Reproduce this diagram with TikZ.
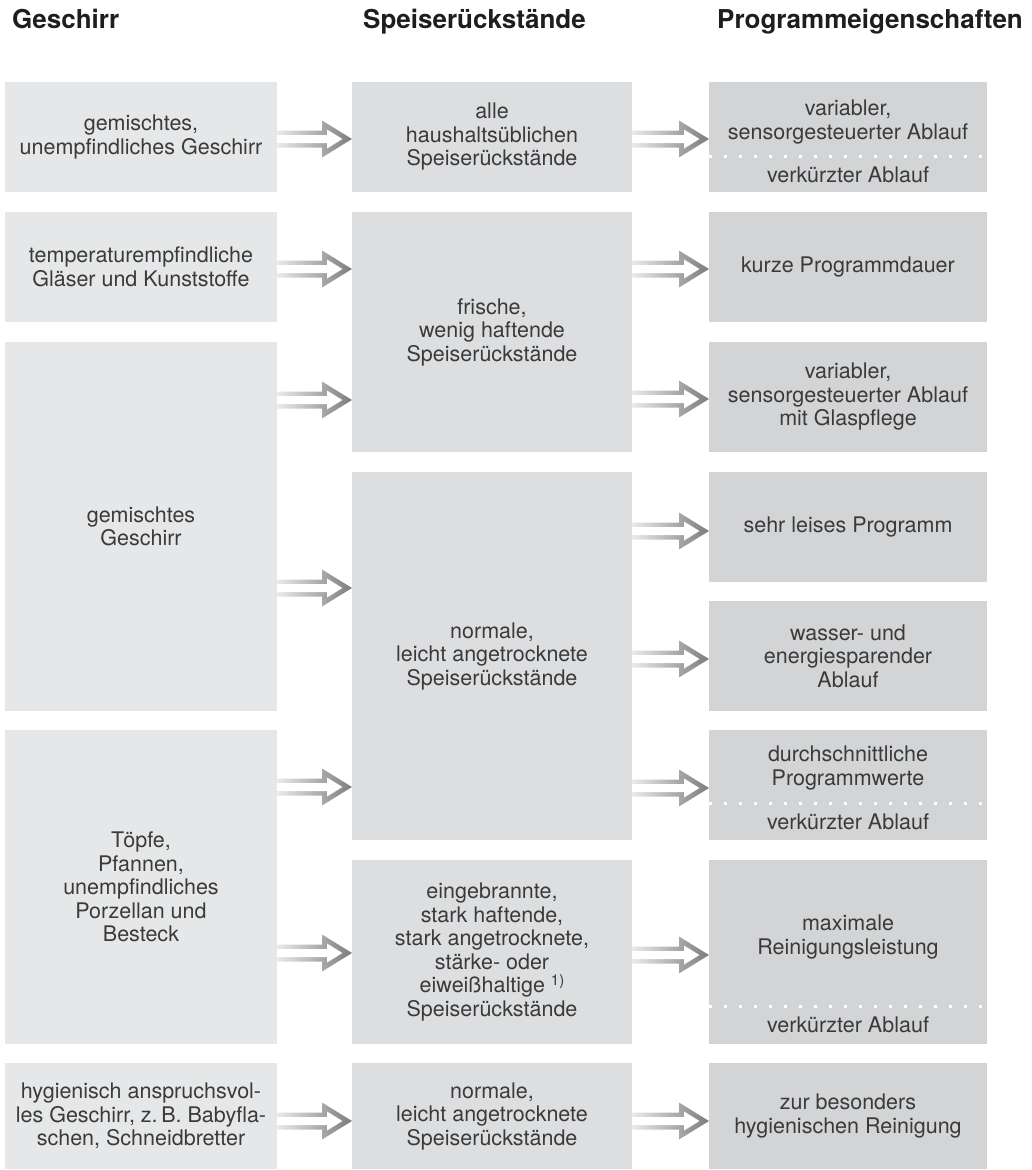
\documentclass[tikz,border=0pt]{standalone}
\usepackage{fontspec}
\setmainfont{TeX Gyre Heros}
\usetikzlibrary{calc}
\definecolor{cA}{HTML}{E6E7E8}
\definecolor{cB}{HTML}{DDDEE0}
\definecolor{cC}{HTML}{D3D4D6}
\definecolor{txt}{HTML}{3A3A3A}
\definecolor{hd}{HTML}{1E1E1E}
\definecolor{arL}{HTML}{EAEAEA}
\definecolor{arM}{HTML}{A2A2A2}
\definecolor{arR}{HTML}{7C7C7C}
\newcommand\hollowarr[3]{%
  \shade[left color=arL, middle color=arM, right color=arR]
    let \p1=(#1.east |- 0,#3), \p2=(#2.west |- 0,#3) in
    (\x1,\y1+8.5pt) -- (\x2-30pt,\y1+8.5pt) -- (\x2-30pt,\y1+18.5pt) -- (\x2,\y1)
    -- (\x2-30pt,\y1-18.5pt) -- (\x2-30pt,\y1-8.5pt) -- (\x1,\y1-8.5pt) -- cycle;
  \fill[white]
    let \p1=(#1.east |- 0,#3), \p2=(#2.west |- 0,#3) in
    (\x1,\y1+4pt) -- (\x2-25pt,\y1+4pt) -- (\x2-25pt,\y1+9.5pt) -- (\x2-9.6pt,\y1)
    -- (\x2-25pt,\y1-9.5pt) -- (\x2-25pt,\y1-4pt) -- (\x1,\y1-4pt) -- cycle;
}
\newcommand\fnmark[1]{\raisebox{7pt}{\fontsize{15}{15}\selectfont #1}}
\begin{document}
\begin{tikzpicture}[x=1pt,y=-1pt,
  tx/.style={inner sep=0pt, outer sep=0pt, text=txt, align=center,
    font=\fontsize{21.5}{23.5}\selectfont},
  colA/.style={tx, fill=cA, minimum width=272pt},
  colB/.style={tx, fill=cB, minimum width=280pt},
  colC/.style={tx, fill=cC, minimum width=278pt},
  head/.style={inner sep=0pt, anchor=base west, text=hd,
    font=\fontsize{26}{30}\selectfont\bfseries},
  dotline/.style={white, line width=3pt, dash pattern=on 3pt off 12pt}]
\useasboundingbox (0,0) rectangle (1032,1170);

% headers
\node[head] (h1) at (12,28) {Geschirr};
\node[head] (h2) at (363,28) {Speiserückstände};
\node[head] (h3) at (717,28) {Programmeigenschaften};

% column 1
\node[colA, minimum height=110pt] (g1) at (141,137) {gemischtes,\\unempfindliches Geschirr};
\node[colA, minimum height=110pt] (g2) at (141,267) {temperaturempfindliche\\Gläser und Kunststoffe};
\node[colA, minimum height=369pt] (g3) at (141,526.5) {gemischtes\\Geschirr};
\node[colA, minimum height=314pt] (g4) at (141,887) {Töpfe,\\Pfannen,\\unempfindliches\\Porzellan und\\Besteck};
\node[colA, minimum height=106pt] (g5) at (141,1116) {hygienisch anspruchsvol-\\les Geschirr, z.\,B. Babyfla-\\schen, Schneidbretter};

% column 2
\node[colB, minimum height=110pt] (s1) at (492,137) {alle\\haushaltsüblichen\\Speiserückstände};
\node[colB, minimum height=240pt] (s2) at (492,332) {frische,\\wenig haftende\\Speiserückstände};
\node[colB, minimum height=368pt] (s3) at (492,656) {normale,\\leicht angetrocknete\\Speiserückstände};
\node[colB, minimum height=184pt] (s4) at (492,952) {eingebrannte,\\stark haftende,\\stark angetrocknete,\\stärke- oder\\eiweißhaltige \fnmark{1)}\\Speiserückstände};
\node[colB, minimum height=106pt] (s5) at (492,1116) {normale,\\leicht angetrocknete\\Speiserückstände};

% column 3
\node[colC, minimum height=110pt] (p1) at (848,137) {};
\node[tx] (p1a) at (848,122) {variabler,\\sensorgesteuerter Ablauf};
\node[tx] (p1b) at (848,174.5) {verkürzter Ablauf};
\draw[dotline] (p1.west |- 0,156) -- (p1.east |- 0,156);

\node[colC, minimum height=110pt] (p2) at (848,267) {kurze Programmdauer};
\node[colC, minimum height=110pt] (p3) at (848,397) {variabler,\\sensorgesteuerter Ablauf\\mit Glaspflege};
\node[colC, minimum height=110pt] (p4) at (848,527) {sehr leises Programm};
\node[colC, minimum height=110pt] (p5) at (848,656) {wasser- und\\energiesparender\\Ablauf};

\node[colC, minimum height=110pt] (p6) at (848,785) {};
\node[tx] (p6a) at (848,768) {durchschnittliche\\Programmwerte};
\node[tx] (p6b) at (848,821.5) {verkürzter Ablauf};
\draw[dotline] (p6.west |- 0,803) -- (p6.east |- 0,803);

\node[colC, minimum height=184pt] (p7) at (848,952) {};
\node[tx] (p7a) at (848,937) {maximale\\Reinigungsleistung};
\node[tx] (p7b) at (848,1025) {verkürzter Ablauf};
\draw[dotline] (p7.west |- 0,1006) -- (p7.east |- 0,1006);

\node[colC, minimum height=106pt] (p8) at (848,1116) {zur besonders\\hygienischen Reinigung};

% arrows column 1 -> column 2
\hollowarr{g1}{s1}{139}
\hollowarr{g2}{s2}{269}
\hollowarr{g3}{s2}{400}
\hollowarr{g3}{s3}{588}
\hollowarr{g4}{s3}{787}
\hollowarr{g4}{s4}{953}
\hollowarr{g5}{s5}{1121}

% arrows column 2 -> column 3
\hollowarr{s1}{p1}{139}
\hollowarr{s2}{p2}{269}
\hollowarr{s2}{p3}{399}
\hollowarr{s3}{p4}{531}
\hollowarr{s3}{p5}{659}
\hollowarr{s3}{p6}{788}
\hollowarr{s4}{p7}{955}
\hollowarr{s5}{p8}{1121}
\end{tikzpicture}
\end{document}
